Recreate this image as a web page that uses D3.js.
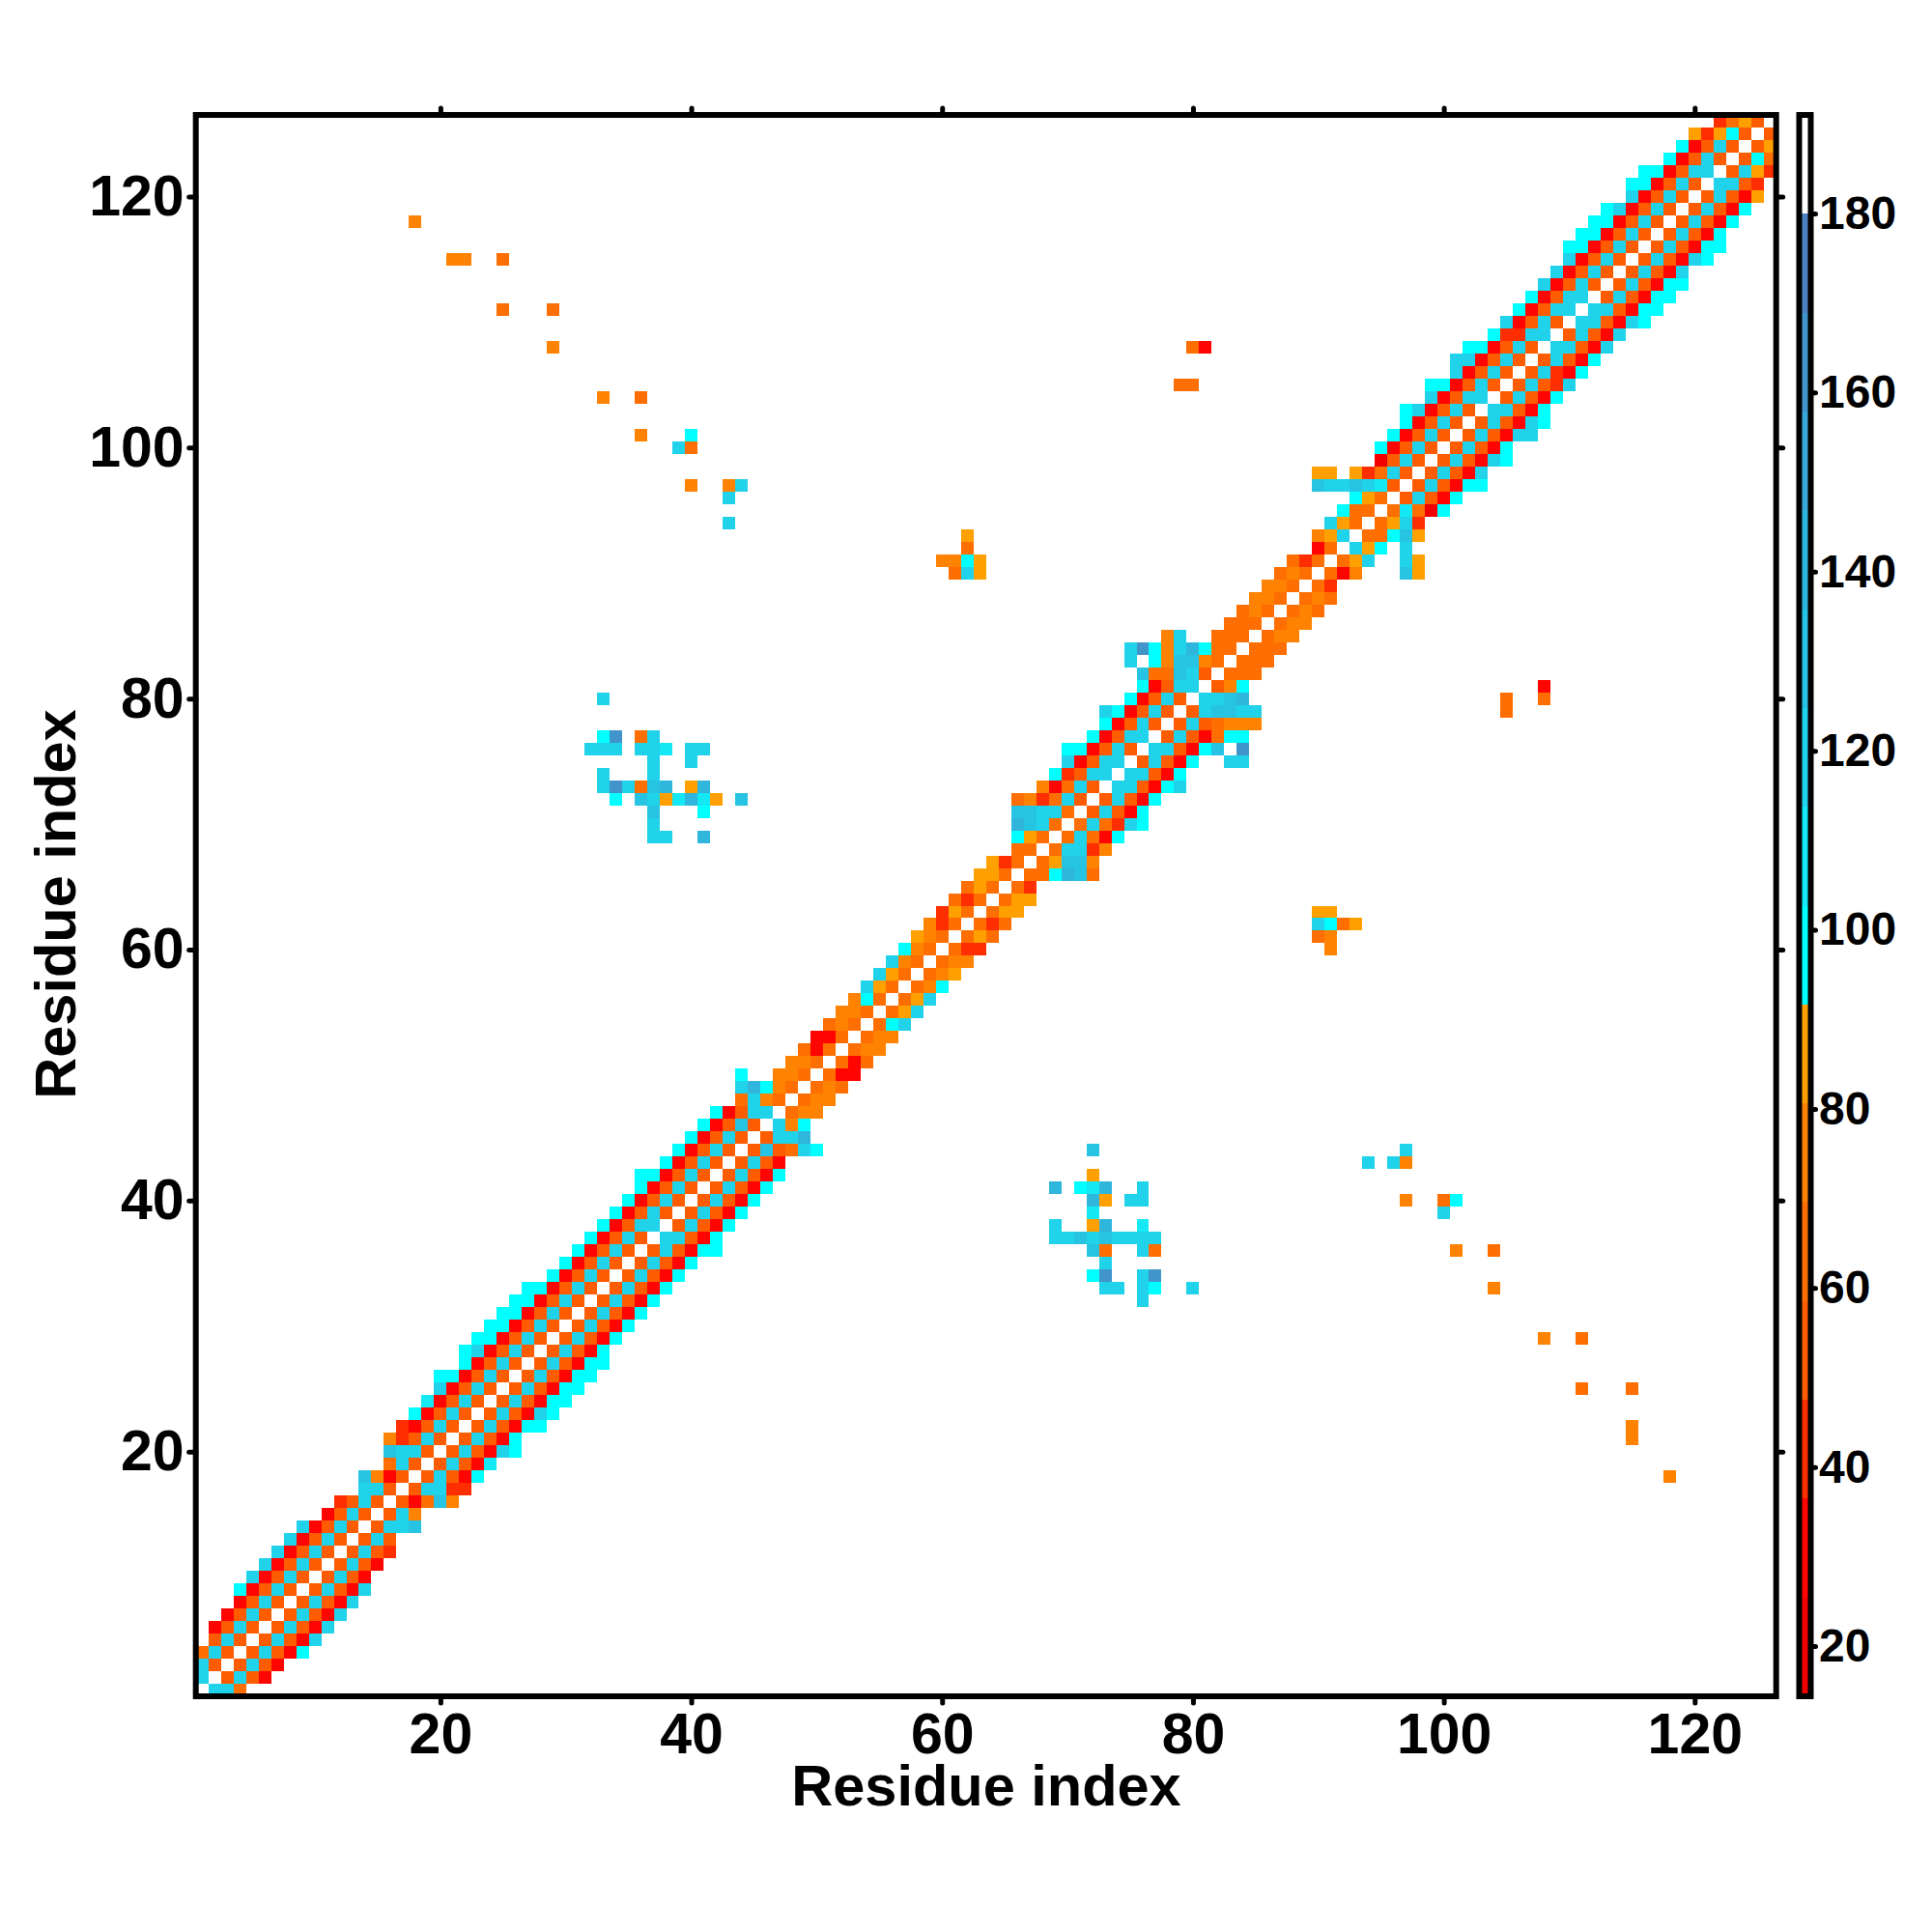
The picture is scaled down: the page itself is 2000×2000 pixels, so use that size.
<!DOCTYPE html>
<html>
<head>
<meta charset="utf-8">
<script src="https://d3js.org/d3.v7.min.js"></script>
<style>
  body { margin: 0; background: #fff; }
  text { font-family: "Liberation Sans", Arial, sans-serif; font-weight: bold; fill: #000; }
</style>
</head>
<body>
<svg id="chart" width="2000" height="2000"></svg>
<script>
// value of the colour bar ends and the colours of its 16 steps, low to high
let valueRange = [14.4, 191];
let stepColors = ["#F20000", "#FF0400", "#FF2E00", "#FF5C00", "#FF6E00", "#FF8200", "#FFA000",
                  "#00FFFF", "#14E8F4", "#20D2EA", "#26C4E2", "#2FB6DC", "#38A8D6", "#4195CB", "#4D80BE", "#FFFFFF"];

let gridTicks = [20, 40, 60, 80, 100, 120];
let barTicks = [20, 40, 60, 80, 100, 120, 140, 160, 180];
let residueCount = 126;
let selfValue = 185;

let bandRows = [
  [119,119,64],
  [53,119,53,31],
  [53,119,53,31],
  [53,119,53,31,97],
  [53,119,53,31,119],
  [53,119,53,31,119],
  [53,119,53,31,119],
  [53,119,53,31,119],
  [53,119,53,31,119],
  [53,119,53,31],
  [53,119,53,31],
  [53,119,53,42],
  [53,119,53],
  [53,119,119,130],
  [53,119,75],
  [53,31,64,130,75],
  [53,119,119,42,42],
  [53,119,53,31,97],
  [53,119,53,31,108],
  [53,119,53,31,119,97],
  [53,119,53,31,97],
  [53,119,53,31,97,97],
  [53,119,53,31,119,97],
  [53,119,53,31,97,97],
  [53,119,53,31,97,97],
  [53,119,53,31,97,97],
  [53,119,53,31,97,97],
  [53,119,53,31,97],
  [53,119,53,31,97],
  [53,119,53,31,97],
  [53,119,53,31,97],
  [53,119,53,31,97],
  [53,119,53,31,97],
  [53,119,53,31,97],
  [53,119,53,31,97],
  [53,119,53,31,97,97],
  [119,119,53,31,97],
  [53,119,53,31,97],
  [53,119,53,31,97],
  [53,119,53,31,97],
  [53,119,53,31,97],
  [53,119,53,31,97],
  [53,119,53,31],
  [53,130,53,64,119,97],
  [53,119,119,141],
  [119,75,97],
  [64,75,75],
  [64,75,75],
  [64,75,64],
  [64,31,31],
  [64,31,64],
  [64,75,75],
  [64,75,75],
  [64,97,119],
  [64,86,119],
  [64,86,119],
  [64,75,97],
  [64,75,86],
  [64,75,75],
  [64,42,42],
  [64,86,64],
  [64,42,64],
  [64,86,86],
  [64,86,86],
  [64,42],
  [64,64,97,141,130,64],
  [64,86,130,130,75],
  [64,119,119,42,75],
  [64,119,64,31,97],
  [64,119,64,42,119,97],
  [53,119,53,31,97],
  [53,119,53,31,97],
  [119,119,53,31,97,119],
  [119,119,53,31,97],
  [53,119,53,31,97,null,null,119,119],
  [119,119,53,31,97,130,null,163],
  [53,119,53,31,64,97,97],
  [53,119,53,64,75,75,75],
  [53,119,130,130,119,119],
  [119,119,130,141],
  [53,75,97],
  [64,64,64],
  [64,64,64],
  [64,64,64],
  [64,75,75],
  [64,75,75],
  [64,75,64],
  [64,75,64],
  [64,42],
  [64,31,75,null,null,null,130,86],
  [64,86,119,null,null,119,86],
  [119,86,97,null,119],
  [64,64,97,130,86],
  [64,86,119,42],
  [64,108,64,20,97],
  [53,119,53,31,97],
  [53,119,53,31,97,97],
  [53,119,53,31,119],
  [53,119,53,31,119,97],
  [53,119,53,31,97],
  [53,119,53,31,119,119],
  [53,119,53,31,119,97],
  [119,119,53,31,97],
  [53,119,53,31,97],
  [53,119,53,42,119],
  [53,119,42,31,97],
  [53,119,53,31,97],
  [119,119,53,31,119],
  [53,119,53,31,119],
  [119,119,53,31,119,97],
  [119,119,53,31,97,97],
  [53,119,53,31,97,97],
  [53,119,53,31,97,97],
  [53,119,53,31,119],
  [53,119,53,31,119,97],
  [53,119,53,31,97,97],
  [53,119,53,31,97],
  [53,119,53,31,97],
  [53,119,53,31,97],
  [53,119,53,31,86],
  [119,119,53,42],
  [53,119,86,42],
  [53,97,64],
  [53,86],
  [53]
];

// contacts away from the diagonal, upper triangle
let contactI = [18,21,22,25,25,29,29,33,36,36,39,40,40,40,43,44,43,43,
                60,61,61,62,62,62,62,63,63,79,80,80,81,
                33,33,34,36,37,32,33,34,36,37,38,40,41,37,40,33,37,
                33,34,35,36,37,38,40,41,34,36,37,38,39,40,41,42,44,37,41,37,37,38,41];
let contactJ = [118,115,115,115,111,111,108,104,104,101,100,100,101,97,97,97,96,94,
                91,90,91,90,91,92,93,90,91,105,105,108,108,
                80,77,77,77,77,76,76,76,76,76,76,76,76,75,75,74,74,
                73,73,73,73,73,73,73,73,72,72,72,72,72,72,72,72,72,71,71,70,69,69,69];
let contactValue = [75,75,75,64,64,64,75,75,64,75,119,64,97,75,75,119,119,119,
                    75,64,75,119,97,64,86,86,86,64,64,64,31,
                    119,97,163,64,119,119,119,119,119,119,108,119,119,119,119,119,119,
                    119,163,119,64,130,141,86,141,97,130,119,86,108,141,108,86,130,130,97,119,119,119,141];

let margin = {left: 202.7, right: 1838.7, top: 119, bottom: 1756};

function buildCells() {
    let cells = [];
    d3.range(1, residueCount + 1).forEach((i) => {
        cells.push({x: i, y: i, value: selfValue});
    });
    bandRows.forEach((row, r) => {
        row.forEach((value, k) => {
            if (value === null) return;
            let i = r + 1;
            let j = i + k + 1;
            cells.push({x: i, y: j, value: value});
            cells.push({x: j, y: i, value: value});
        });
    });
    contactI.forEach((i, n) => {
        cells.push({x: i, y: contactJ[n], value: contactValue[n]});
        cells.push({x: contactJ[n], y: i, value: contactValue[n]});
    });
    return cells;
}

function styleAxis(g, fontSize) {
    g.select(".domain").remove();
    g.selectAll("line").attr("stroke", "#000").attr("stroke-width", 5).attr("stroke-linecap", "round");
    g.selectAll("text").style("font-size", fontSize + "px");
}

function init() {
    let svg = d3.select("#chart");

    let x = d3.scaleLinear().domain([0.5, residueCount + 0.5]).range([margin.left, margin.right]);
    let y = d3.scaleLinear().domain([0.5, residueCount + 0.5]).range([margin.bottom, margin.top]);
    let color = d3.scaleQuantize().domain(valueRange).range(stepColors);

    svg.append("g")
        .attr("shape-rendering", "crispEdges")
        .selectAll("rect")
        .data(buildCells())
        .join("rect")
        .attr("x", (d) => x(d.x - 0.5))
        .attr("y", (d) => y(d.y + 0.5))
        .attr("width", (d) => x(d.x + 0.5) - x(d.x - 0.5))
        .attr("height", (d) => y(d.y - 0.5) - y(d.y + 0.5))
        .attr("fill", (d) => color(d.value));

    // axes on all four sides, labels only bottom and left
    svg.append("g").attr("transform", `translate(0,${margin.bottom})`)
        .call(d3.axisBottom(x).tickValues(gridTicks).tickSize(7).tickPadding(10))
        .call(styleAxis, 59);
    svg.append("g").attr("transform", `translate(0,${margin.top})`)
        .call(d3.axisTop(x).tickValues(gridTicks).tickSize(7).tickFormat(""))
        .call(styleAxis, 59);
    svg.append("g").attr("transform", `translate(${margin.left},0)`)
        .call(d3.axisLeft(y).tickValues(gridTicks).tickSize(7).tickPadding(5))
        .call(styleAxis, 59);
    svg.append("g").attr("transform", `translate(${margin.right},0)`)
        .call(d3.axisRight(y).tickValues(gridTicks).tickSize(7).tickFormat(""))
        .call(styleAxis, 59);

    svg.append("rect")
        .attr("x", margin.left).attr("y", margin.top)
        .attr("width", margin.right - margin.left).attr("height", margin.bottom - margin.top)
        .attr("fill", "none").attr("stroke", "#000").attr("stroke-width", 6);

    svg.append("text").text("Residue index")
        .attr("x", 1021).attr("y", 1869).attr("text-anchor", "middle")
        .style("font-size", "59.5px");
    svg.append("text").text("Residue index")
        .attr("transform", "translate(78,936) rotate(-90)").attr("text-anchor", "middle")
        .style("font-size", "59.5px");

    colorBar(svg, color);
}

function colorBar(svg, color) {
    let barLeft = 1862.5;
    let barRight = 1874.5;
    let barScale = d3.scaleLinear().domain(valueRange).range([margin.bottom, margin.top]);
    let edges = [valueRange[0], ...color.thresholds(), valueRange[1]];

    svg.append("g")
        .attr("shape-rendering", "crispEdges")
        .selectAll("rect")
        .data(stepColors)
        .join("rect")
        .attr("x", barLeft)
        .attr("y", (d, i) => barScale(edges[i + 1]))
        .attr("width", barRight - barLeft)
        .attr("height", (d, i) => barScale(edges[i]) - barScale(edges[i + 1]))
        .attr("fill", (d) => d);

    svg.append("g").attr("transform", `translate(${barRight},0)`)
        .call(d3.axisRight(barScale).tickValues(barTicks).tickSize(5).tickPadding(3.5))
        .call(styleAxis, 48);

    svg.append("rect")
        .attr("x", barLeft).attr("y", margin.top)
        .attr("width", barRight - barLeft).attr("height", margin.bottom - margin.top)
        .attr("fill", "none").attr("stroke", "#000").attr("stroke-width", 6);
}

init();
</script>
</body>
</html>
